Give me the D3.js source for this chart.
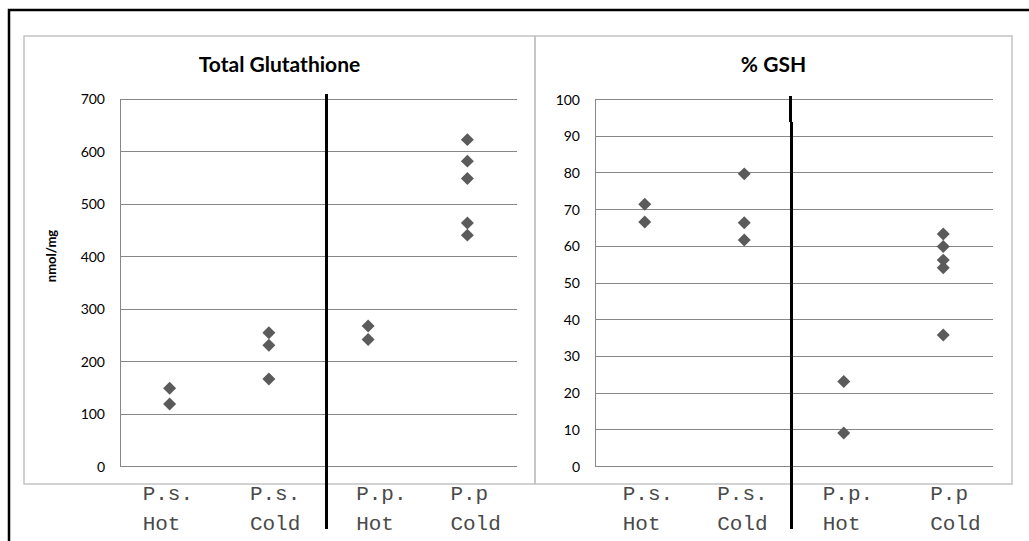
<!DOCTYPE html>
<html>
<head>
<meta charset="utf-8">
<script src="https://cdn.jsdelivr.net/npm/d3@7"></script>
<style>
  html, body { margin: 0; padding: 0; background: #fff; }
  svg { display: block; }
</style>
</head>
<body>
<svg id="chart" width="1029" height="541"></svg>
<script>
// ---- data ----
const categories = ["P.s. Hot", "P.s. Cold", "P.p. Hot", "P.p Cold"];
const categoryLine1 = ["P.s.", "P.s.", "P.p.", "P.p"];
const categoryLine2 = ["Hot", "Cold", "Hot", "Cold"];
const totalGlutathione = [
  [148, 118],
  [254, 230, 166],
  [267, 241],
  [622, 581, 548, 463, 440]
];
const gshPercent = [
  [71.3, 66.5],
  [79.6, 66.3, 61.6],
  [23.0, 9.0],
  [63.2, 59.8, 56.1, 54.0, 35.7]
];
const totalTicks = [0, 100, 200, 300, 400, 500, 600, 700];
const gshTicks = [0, 10, 20, 30, 40, 50, 60, 70, 80, 90, 100];

// ---- layout ----
const svg = d3.select("#chart");
const gridColor = "#878787";
const frameColor = "#c3c3c3";
const markColor = "#5b5b5b";
const textFont = "Lato, 'Liberation Sans', sans-serif";

// outer black border (extends past right/bottom)
svg.append("path")
  .attr("d", "M9,541 V10 H1029")
  .attr("fill", "none").attr("stroke", "#000").attr("stroke-width", 2.5);

const panels = [
  {
    title: "Total Glutathione", values: totalGlutathione, ticks: totalTicks,
    domain: [0, 700], frame: [24, 36, 535, 484], plotX: [120, 517], plotY: [466, 98.7],
    yLabel: "nmol/mg", yLabelX: 51, yLabelY: 256,
    labelDx: [-27, -19, -12, -17],
    sep: [[326.5, 94, 529]]
  },
  {
    title: "% GSH", values: gshPercent, ticks: gshTicks,
    domain: [0, 100], frame: [535, 36, 1012, 484], plotX: [595, 993], plotY: [466, 99],
    yLabel: null,
    labelDx: [-22, -27, -21, -13],
    sep: [[790.5, 96, 122], [791.5, 122, 529]]
  }
];

panels.forEach(p => {
  const g = svg.append("g");
  const [fx0, fy0, fx1, fy1] = p.frame;
  g.append("rect")
    .attr("x", fx0).attr("y", fy0).attr("width", fx1 - fx0).attr("height", fy1 - fy0)
    .attr("fill", "none").attr("stroke", frameColor).attr("stroke-width", 1.5);

  const x = d3.scaleBand().domain(categories).range(p.plotX).paddingInner(0).paddingOuter(0);
  const y = d3.scaleLinear().domain(p.domain).range(p.plotY);

  // gridlines + tick labels via axis
  const axis = d3.axisLeft(y).tickValues(p.ticks).tickSize(-(p.plotX[1] - p.plotX[0])).tickPadding(15);
  const ax = g.append("g").attr("transform", `translate(${p.plotX[0]},0)`).call(axis);
  ax.select(".domain").remove();
  ax.selectAll(".tick line").attr("stroke", gridColor).attr("stroke-width", 1).attr("shape-rendering", "crispEdges");
  ax.selectAll(".tick text")
    .attr("font-family", textFont).attr("font-size", 14).attr("fill", "#000")
    .attr("dy", "0.36em");
  // vertical axis line
  g.append("line")
    .attr("x1", p.plotX[0]).attr("x2", p.plotX[0])
    .attr("y1", y(p.domain[1])).attr("y2", y(p.domain[0]))
    .attr("stroke", gridColor).attr("stroke-width", 1).attr("shape-rendering", "crispEdges");

  // title
  g.append("text")
    .attr("x", (fx0 + fx1) / 2).attr("y", 72)
    .attr("text-anchor", "middle")
    .attr("font-family", textFont).attr("font-weight", "bold").attr("font-size", 21)
    .text(p.title);

  if (p.yLabel) {
    g.append("text")
      .attr("transform", `translate(${p.yLabelX},${p.yLabelY}) rotate(-90)`)
      .attr("text-anchor", "middle").attr("dy", "0.35em")
      .attr("font-family", textFont).attr("font-weight", "bold").attr("font-size", 13)
      .text(p.yLabel);
  }

  // category labels (two lines, monospace)
  categories.forEach((c, i) => {
    const cx = x(c) + x.bandwidth() / 2 + p.labelDx[i];
    const t = g.append("text")
      .attr("font-family", "'Liberation Mono', 'Courier New', monospace")
      .attr("font-size", 21).attr("fill", "#4a4a4a");
    t.append("tspan").attr("x", cx).attr("y", 500).text(categoryLine1[i]);
    t.append("tspan").attr("x", cx).attr("y", 530).text(categoryLine2[i]);
  });

  // separator lines
  p.sep.forEach(s => {
    g.append("line")
      .attr("x1", s[0]).attr("x2", s[0]).attr("y1", s[1]).attr("y2", s[2])
      .attr("stroke", "#000").attr("stroke-width", 3);
  });

  // diamond markers
  const pts = [];
  p.values.forEach((vals, i) => vals.forEach(v => pts.push({ c: categories[i], v })));
  const sym = d3.symbol().type(d3.symbolSquare).size(84);
  g.selectAll("path.pt").data(pts).join("path")
    .attr("class", "pt")
    .attr("d", sym)
    .attr("transform", d => `translate(${x(d.c) + x.bandwidth() / 2},${y(d.v)}) rotate(45)`)
    .attr("fill", markColor);
});
</script>
</body>
</html>
